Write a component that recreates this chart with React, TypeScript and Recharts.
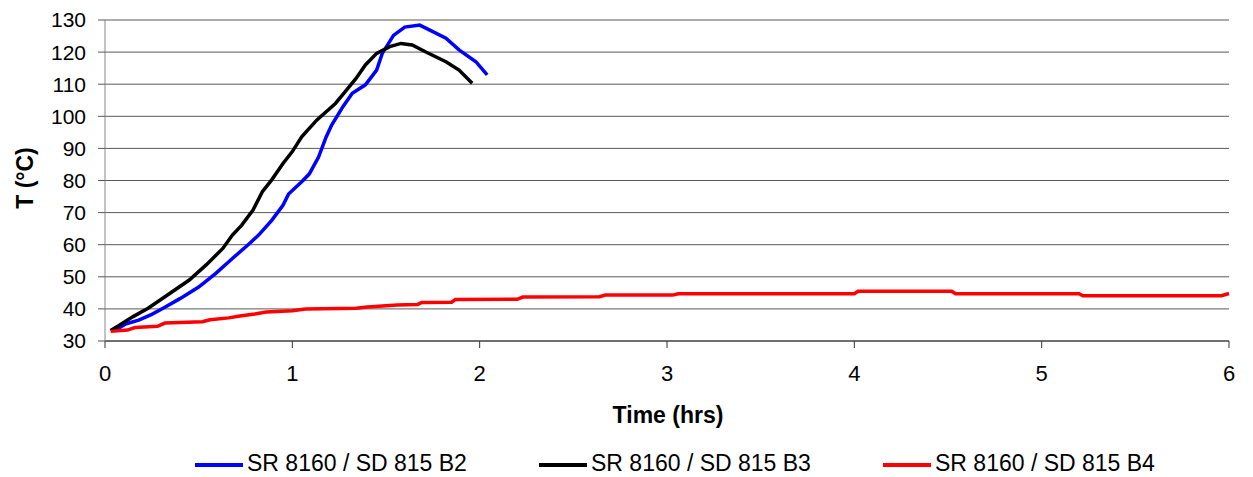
import React from "react";
import {
  LineChart,
  Line,
  XAxis,
  YAxis,
  CartesianGrid,
} from "recharts";

// time (hrs) / temperature (°C)
const b2Time = [0.05, 0.11, 0.18, 0.25, 0.31, 0.4, 0.5, 0.59, 0.68, 0.77, 0.82, 0.89, 0.95, 0.98, 1.05, 1.09, 1.14, 1.18, 1.21, 1.27, 1.32, 1.39, 1.45, 1.48, 1.54, 1.6, 1.68, 1.75, 1.82, 1.89, 1.98, 2.04];
const b2Temp = [33.2, 35.3, 36.5, 38.3, 40.2, 43.2, 46.8, 51.0, 55.7, 60.3, 63.0, 67.6, 72.3, 75.8, 79.6, 82.0, 87.3, 93.5, 97.3, 103.0, 107.2, 109.8, 114.4, 119.6, 125.2, 127.8, 128.4, 126.4, 124.3, 120.7, 117.0, 112.9];

const b3Time = [0.03, 0.07, 0.15, 0.23, 0.32, 0.45, 0.54, 0.63, 0.68, 0.73, 0.79, 0.84, 0.89, 0.95, 1.0, 1.05, 1.13, 1.23, 1.29, 1.34, 1.39, 1.45, 1.52, 1.58, 1.64, 1.71, 1.82, 1.89, 1.96];
const b3Temp = [33.3, 34.7, 37.6, 40.2, 43.8, 49.0, 53.7, 58.9, 63.0, 66.1, 70.8, 76.5, 80.2, 85.3, 89.0, 93.6, 98.8, 104.0, 108.2, 111.8, 116.0, 119.6, 121.7, 122.7, 122.2, 120.1, 117.0, 114.4, 110.3];

const b4Time = [0.03, 0.12, 0.16, 0.28, 0.32, 0.52, 0.56, 0.66, 0.72, 0.8, 0.86, 1.0, 1.07, 1.34, 1.4, 1.56, 1.67, 1.69, 1.85, 1.87, 2.2, 2.23, 2.64, 2.67, 3.03, 3.06, 4.0, 4.02, 4.52, 4.54, 5.2, 5.22, 5.96, 6.0];
const b4Temp = [33.0, 33.4, 34.2, 34.6, 35.6, 36.0, 36.6, 37.2, 37.8, 38.4, 39.0, 39.4, 40.0, 40.2, 40.6, 41.2, 41.4, 42.0, 42.1, 42.9, 43.0, 43.7, 43.8, 44.3, 44.3, 44.7, 44.7, 45.5, 45.5, 44.7, 44.7, 44.1, 44.1, 44.8];

const xTicks = [0, 1, 2, 3, 4, 5, 6];
const yTicks = [30, 40, 50, 60, 70, 80, 90, 100, 110, 120, 130];

const seriesNames = ["SR 8160 / SD 815 B2", "SR 8160 / SD 815 B3", "SR 8160 / SD 815 B4"];
const seriesColors = ["#0000ff", "#000000", "#ff0000"];

const toPoints = (t: number[], v: number[]) => t.map((x, i) => ({ t: x, T: v[i] }));

const series = [
  toPoints(b2Time, b2Temp),
  toPoints(b3Time, b3Temp),
  toPoints(b4Time, b4Temp),
];

const FONT = "'Liberation Sans', Arial, sans-serif";

export default function App() {
  return (
    <div
      style={{
        position: "absolute",
        left: 0,
        top: 0,
        width: 1253,
        height: 477,
        background: "#fff",
        fontFamily: FONT,
      }}
    >
      <LineChart
        width={1253}
        height={477}
        margin={{ top: 20, right: 24, left: 0, bottom: 106 }}
        style={{ fontFamily: FONT }}
      >
        <CartesianGrid vertical={false} stroke="#5a5a5a" strokeWidth={1} />
        <XAxis
          type="number"
          dataKey="t"
          domain={[0, 6]}
          ticks={xTicks}
          interval={0}
          height={30}
          tickSize={7}
          tickMargin={17}
          axisLine={{ stroke: "#333" }}
          tickLine={{ stroke: "#333" }}
          tick={{ fontSize: 22, fill: "#000" }}
          allowDecimals={false}
        />
        <YAxis
          type="number"
          dataKey="T"
          domain={[30, 130]}
          ticks={yTicks}
          interval={0}
          width={105}
          tickSize={7}
          tickMargin={12}
          axisLine={{ stroke: "#888" }}
          tickLine={{ stroke: "#555" }}
          tick={{ fontSize: 21, fill: "#000" }}
        />
        {series.map((d, i) => (
          <Line
            key={seriesNames[i]}
            data={d}
            dataKey="T"
            name={seriesNames[i]}
            type="linear"
            stroke={seriesColors[i]}
            strokeWidth={3.5}
            dot={false}
            isAnimationActive={false}
          />
        ))}
      </LineChart>

      {/* axis titles */}
      <div
        style={{
          position: "absolute",
          left: 25,
          top: 178,
          transform: "translate(-50%, -50%) rotate(-90deg)",
          fontSize: 23,
          fontWeight: "bold",
          whiteSpace: "nowrap",
          lineHeight: "23px",
        }}
      >
        T (°C)
      </div>
      <div
        style={{
          position: "absolute",
          left: 668,
          top: 404,
          transform: "translateX(-50%)",
          fontSize: 23,
          fontWeight: "bold",
          whiteSpace: "nowrap",
          lineHeight: "23px",
        }}
      >
        Time (hrs)
      </div>

      {/* legend */}
      <div
        style={{
          position: "absolute",
          left: 195,
          top: 452,
          display: "flex",
          fontSize: 23,
          lineHeight: "23px",
        }}
      >
        {seriesNames.map((n, i) => (
          <div key={n} style={{ width: 344, display: "flex", alignItems: "center" }}>
            <span
              style={{
                display: "inline-block",
                width: 48,
                height: 4,
                background: seriesColors[i],
                marginRight: 4,
                marginTop: 2,
              }}
            />
            <span style={{ whiteSpace: "nowrap" }}>{n}</span>
          </div>
        ))}
      </div>
    </div>
  );
}
